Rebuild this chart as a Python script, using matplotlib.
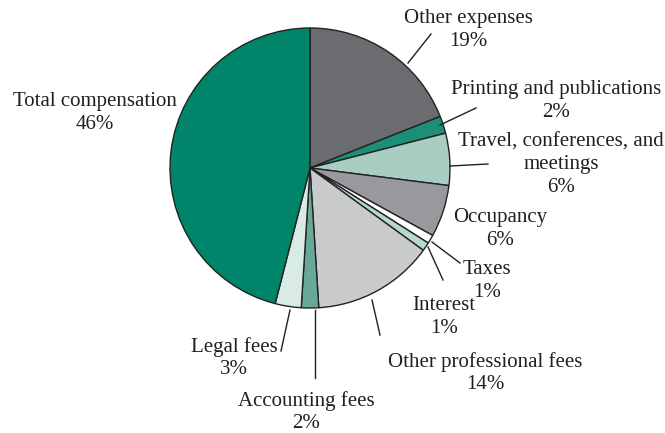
import matplotlib.pyplot as plt

W, H = 665, 433

categories = ['Other expenses', 'Printing and publications', 'Travel, conferences, and\nmeetings',
              'Occupancy', 'Taxes', 'Interest', 'Other professional fees',
              'Accounting fees', 'Legal fees', 'Total compensation']
shares = [19, 2, 6, 6, 1, 1, 14, 2, 3, 46]
colors = ['#6b6c6f', '#1b8f77', '#a9cdc3', '#98999c', '#ffffff',
          '#b5dacd', '#c9cacc', '#67a996', '#d8ebe4', '#00856b']

# label centre (x, y) in pixels from top-left
label_pos = [(468, 30), (556, 101), (561, 165), (500, 229), (487, 281),
             (444, 317), (485, 373), (306, 412), (234, 358), (95, 113)]
# leader lines (x0, y0, x1, y1), None if no line
leaders = [(408, 63, 431, 34), (440, 125, 476, 108), (450, 166, 488, 164), None,
           (432, 242, 460, 263), (428, 247, 443, 280), (372, 300, 380, 335),
           (315, 310, 315, 378), (290, 310, 281, 351), None]

plt.rcParams['font.family'] = ['Liberation Serif', 'DejaVu Serif']

fig = plt.figure(figsize=(W / 100, H / 100), dpi=100)
ax = fig.add_axes([0, 0, 1, 1])

ax.pie(shares, colors=colors, startangle=90, counterclock=False,
       center=(310, H - 168), radius=140, frame=True,
       wedgeprops=dict(edgecolor='#222222', linewidth=1.0))
ax.set_xlim(0, W)
ax.set_ylim(0, H)
ax.set_aspect('equal')
ax.axis('off')

for name, val, (lx, ly), ld in zip(categories, shares, label_pos, leaders):
    ax.text(lx, H - ly, f'{name}\n{val}%', ha='center', va='center',
            fontsize=15, color='#231f20', linespacing=1.25)
    if ld is not None:
        x0, y0, x1, y1 = ld
        ax.plot([x0, x1], [H - y0, H - y1], color='#231f20', lw=1.0)

fig.savefig('out.png', dpi=100)
